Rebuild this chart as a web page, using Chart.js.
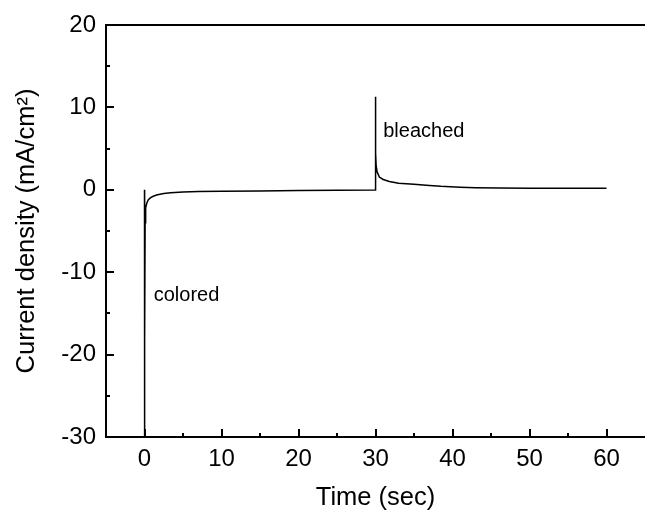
<!DOCTYPE html>
<html>
<head>
<meta charset="utf-8">
<script src="https://cdn.jsdelivr.net/npm/chart.js@4/dist/chart.umd.min.js"></script>
<style>
  html, body { margin: 0; padding: 0; background: #fff; }
  #wrap { width: 645px; height: 511px; }
</style>
</head>
<body>
<div id="wrap"><canvas id="chart" width="645" height="511"></canvas></div>
<script>
// chronoamperometry trace
const timeSec = [
  0, 0, 0.03, 0.08, 0.15, 0.3, 0.5, 0.8, 1.2, 1.7, 2.5, 3.4, 5, 7, 10, 15, 20, 25, 29.95,
  30, 30, 30.03, 30.08, 30.2, 30.5, 31, 31.8, 33, 35, 37, 38.5, 41, 43, 46, 50, 55, 60
];
const currentDensity = [
  0, -30, -18.4, -4, -2.2, -1.6, -1.2, -0.95, -0.75, -0.6, -0.45, -0.35, -0.27, -0.22, -0.18, -0.14, -0.1, -0.06, -0.02,
  0, 11.3, 4.5, 3.0, 2.2, 1.55, 1.25, 1.0, 0.8, 0.68, 0.52, 0.42, 0.32, 0.26, 0.22, 0.2, 0.2, 0.2
];

const xMajorTicks = [0, 10, 20, 30, 40, 50, 60];
const xMinorTicks = [5, 15, 25, 35, 45, 55];
const yMajorTicks = [-30, -20, -10, 0, 10, 20];
const yMinorTicks = [-25, -15, -5, 5, 15];

const noteText = ['colored', 'bleached'];
const noteTime = [1.2, 31.0];
const noteCurrent = [-12.8, 7.1];

const FONT = "'Liberation Sans', Arial, Helvetica, sans-serif";

// inward tick marks, top frame line and the two text notes
const framePlugin = {
  id: 'frame',
  afterDraw(chart) {
    const ctx = chart.ctx;
    const area = chart.chartArea;
    const xs = chart.scales.x;
    const ys = chart.scales.y;
    ctx.save();
    ctx.strokeStyle = '#000';
    ctx.lineWidth = 2;
    ctx.beginPath();
    ctx.moveTo(area.left - 1, area.top);
    ctx.lineTo(area.right, area.top);
    xMajorTicks.forEach(v => {
      const px = Math.round(xs.getPixelForValue(v));
      ctx.moveTo(px, area.bottom);
      ctx.lineTo(px, area.bottom - 8);
    });
    xMinorTicks.forEach(v => {
      const px = Math.round(xs.getPixelForValue(v));
      ctx.moveTo(px, area.bottom);
      ctx.lineTo(px, area.bottom - 4);
    });
    yMajorTicks.forEach(v => {
      const py = Math.round(ys.getPixelForValue(v));
      ctx.moveTo(area.left, py);
      ctx.lineTo(area.left + 8, py);
    });
    yMinorTicks.forEach(v => {
      const py = Math.round(ys.getPixelForValue(v));
      ctx.moveTo(area.left, py);
      ctx.lineTo(area.left + 4, py);
    });
    ctx.stroke();

    ctx.fillStyle = '#000';
    ctx.font = '20px ' + FONT;
    ctx.textAlign = 'left';
    ctx.textBaseline = 'middle';
    noteText.forEach((t, i) => {
      ctx.fillText(t, xs.getPixelForValue(noteTime[i]), ys.getPixelForValue(noteCurrent[i]));
    });
    ctx.restore();
  }
};

const ctx = document.getElementById('chart').getContext('2d');
new Chart(ctx, {
  type: 'scatter',
  data: {
    datasets: [{
      label: 'Current density',
      data: timeSec.map((t, i) => ({ x: t, y: currentDensity[i] })),
      showLine: true,
      borderColor: '#000',
      borderWidth: 1.5,
      pointRadius: 0,
      tension: 0,
    }],
  },
  options: {
    responsive: false,
    animation: false,
    layout: { padding: { top: 25, right: 0, bottom: 0, left: 0 } },
    plugins: {
      legend: { display: false },
      tooltip: { enabled: false },
    },
    scales: {
      x: {
        type: 'linear',
        min: -5,
        max: 65,
        afterBuildTicks: (scale) => { scale.ticks = xMajorTicks.map(v => ({ value: v })); },
        afterFit: (scale) => { scale.height = 74; },
        ticks: {
          color: '#000',
          padding: 8,
          maxRotation: 0,
          font: { family: FONT, size: 24 },
          callback: (v) => String(v),
        },
        grid: { display: false, drawTicks: false },
        border: { display: true, color: '#000', width: 2 },
        title: {
          display: true,
          text: 'Time (sec)',
          color: '#000',
          font: { family: FONT, size: 25.5, lineHeight: 1 },
          padding: { top: 0, bottom: 0 },
        },
      },
      y: {
        type: 'linear',
        min: -30,
        max: 20,
        afterBuildTicks: (scale) => { scale.ticks = yMajorTicks.map(v => ({ value: v })); },
        afterFit: (scale) => { scale.width = 106; },
        ticks: {
          color: '#000',
          padding: 10,
          font: { family: FONT, size: 24 },
          callback: (v) => String(v),
        },
        grid: { display: false, drawTicks: false },
        border: { display: true, color: '#000', width: 2 },
        title: {
          display: true,
          text: 'Current density (mA/cm\u00B2)',
          color: '#000',
          font: { family: FONT, size: 25.5, lineHeight: 1 },
          padding: { top: 14, bottom: 0 },
        },
      },
    },
  },
  plugins: [framePlugin],
});
</script>
</body>
</html>
